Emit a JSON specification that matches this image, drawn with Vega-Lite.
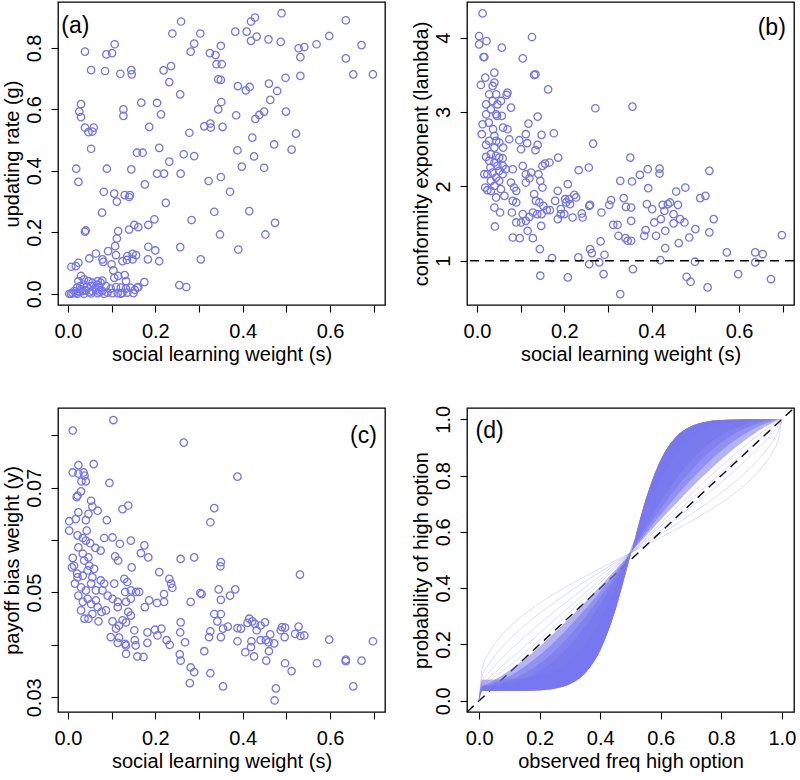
{
"$schema": "https://vega.github.io/schema/vega-lite/v6.json",
"background": "white",
"padding": {"left": 1, "top": 1, "right": 0, "bottom": 0},
"columns": 2,
"spacing": {"row": 103, "column": 82},
"bounds": "flush",
"config": {
 "font": "Liberation Sans",
 "view": {"stroke": "black", "strokeWidth": 1.3},
 "axis": {"domain": false, "grid": false, "ticks": true, "tickColor": "black", "tickSize": 7, "tickWidth": 1.1,
  "labelFont": "Liberation Sans", "labelFontSize": 20, "labelColor": "black", "labelOverlap": false, "labelFlush": false,
  "titleFont": "Liberation Sans", "titleFontSize": 20, "titleFontWeight": "normal", "titleColor": "black"},
 "axisX": {"labelPadding": 9, "titlePadding": 3},
 "axisY": {"labelAngle": -90, "labelAlign": "center", "labelBaseline": "alphabetic", "labelPadding": 11, "titlePadding": 2}
},
"datasets": {
"a": [{"s":0.259,"g":0.886},{"s":0.239,"g":0.847},{"s":0.303,"g":0.847},{"s":0.383,"g":0.853},{"s":0.409,"g":0.853},{"s":0.419,"g":0.886},{"s":0.428,"g":0.899},{"s":0.489,"g":0.913},{"s":0.636,"g":0.89},{"s":0.432,"g":0.837},{"s":0.419,"g":0.823},{"s":0.459,"g":0.828},{"s":0.487,"g":0.82},{"s":0.598,"g":0.839},{"s":0.569,"g":0.812},{"s":0.528,"g":0.799},{"s":0.541,"g":0.803},{"s":0.672,"g":0.809},{"s":0.636,"g":0.766},{"s":0.653,"g":0.714},{"s":0.698,"g":0.714},{"s":0.532,"g":0.77},{"s":0.532,"g":0.709},{"s":0.498,"g":0.703},{"s":0.46,"g":0.684},{"s":0.479,"g":0.66},{"s":0.463,"g":0.631},{"s":0.499,"g":0.593},{"s":0.449,"g":0.593},{"s":0.438,"g":0.582},{"s":0.429,"g":0.569},{"s":0.522,"g":0.521},{"s":0.512,"g":0.469},{"s":0.472,"g":0.486},{"s":0.422,"g":0.508},{"s":0.426,"g":0.447},{"s":0.449,"g":0.41},{"s":0.398,"g":0.414},{"s":0.388,"g":0.467},{"s":0.385,"g":0.581},{"s":0.389,"g":0.676},{"s":0.407,"g":0.662},{"s":0.416,"g":0.673},{"s":0.35,"g":0.696},{"s":0.344,"g":0.698},{"s":0.34,"g":0.747},{"s":0.352,"g":0.747},{"s":0.35,"g":0.807},{"s":0.338,"g":0.777},{"s":0.325,"g":0.783},{"s":0.289,"g":0.814},{"s":0.281,"g":0.788},{"s":0.236,"g":0.741},{"s":0.219,"g":0.727},{"s":0.232,"g":0.689},{"s":0.257,"g":0.649},{"s":0.351,"g":0.624},{"s":0.344,"g":0.6},{"s":0.354,"g":0.543},{"s":0.326,"g":0.554},{"s":0.327,"g":0.541},{"s":0.312,"g":0.545},{"s":0.278,"g":0.524},{"s":0.289,"g":0.448},{"s":0.265,"g":0.454},{"s":0.258,"g":0.391},{"s":0.232,"g":0.43},{"s":0.209,"g":0.475},{"s":0.204,"g":0.391},{"s":0.22,"g":0.391},{"s":0.322,"g":0.367},{"s":0.35,"g":0.38},{"s":0.371,"g":0.332},{"s":0.335,"g":0.267},{"s":0.415,"g":0.269},{"s":0.474,"g":0.231},{"s":0.452,"g":0.193},{"s":0.348,"g":0.193},{"s":0.39,"g":0.144},{"s":0.304,"g":0.112},{"s":0.283,"g":0.24},{"s":0.224,"g":0.296},{"s":0.198,"g":0.242},{"s":0.184,"g":0.224},{"s":0.184,"g":0.153},{"s":0.2,"g":0.141},{"s":0.209,"g":0.106},{"s":0.183,"g":0.112},{"s":0.257,"g":0.152},{"s":0.255,"g":0.028},{"s":0.271,"g":0.022},{"s":0.213,"g":0.584},{"s":0.204,"g":0.621},{"s":0.168,"g":0.622},{"s":0.186,"g":0.543},{"s":0.158,"g":0.459},{"s":0.171,"g":0.459},{"s":0.176,"g":0.356},{"s":0.145,"g":0.405},{"s":0.127,"g":0.6},{"s":0.127,"g":0.579},{"s":0.12,"g":0.716},{"s":0.145,"g":0.728},{"s":0.146,"g":0.714},{"s":0.107,"g":0.812},{"s":0.101,"g":0.783},{"s":0.088,"g":0.779},{"s":0.085,"g":0.725},{"s":0.053,"g":0.728},{"s":0.039,"g":0.788},{"s":0.03,"g":0.617},{"s":0.026,"g":0.593},{"s":0.03,"g":0.575},{"s":0.039,"g":0.541},{"s":0.047,"g":0.526},{"s":0.056,"g":0.528},{"s":0.059,"g":0.541},{"s":0.053,"g":0.472},{"s":0.019,"g":0.407},{"s":0.024,"g":0.364},{"s":0.089,"g":0.407},{"s":0.082,"g":0.332},{"s":0.106,"g":0.326},{"s":0.112,"g":0.3},{"s":0.13,"g":0.321},{"s":0.14,"g":0.315},{"s":0.142,"g":0.321},{"s":0.078,"g":0.264},{"s":0.14,"g":0.209},{"s":0.152,"g":0.224},{"s":0.161,"g":0.217},{"s":0.115,"g":0.204},{"s":0.112,"g":0.18},{"s":0.108,"g":0.155},{"s":0.092,"g":0.139},{"s":0.064,"g":0.131},{"s":0.049,"g":0.115},{"s":0.039,"g":0.202},{"s":0.041,"g":0.206},{"s":0.024,"g":0.101},{"s":0.018,"g":0.09},{"s":0.008,"g":0.088},{"s":0.11,"g":0.126},{"s":0.079,"g":0.112},{"s":0.081,"g":0.104},{"s":0.1,"g":0.096},{"s":0.125,"g":0.106},{"s":0.136,"g":0.123},{"s":0.135,"g":0.11},{"s":0.148,"g":0.112},{"s":0.156,"g":0.126},{"s":0.148,"g":0.13},{"s":0.104,"g":0.076},{"s":0.106,"g":0.052},{"s":0.115,"g":0.058},{"s":0.13,"g":0.061},{"s":0.133,"g":0.041},{"s":0.175,"g":0.038},{"s":0.161,"g":0.022},{"s":0.003,"g":0.0},{"s":0.011,"g":0.002},{"s":0.018,"g":0.003},{"s":0.026,"g":0.007},{"s":0.034,"g":0.009},{"s":0.041,"g":0.011},{"s":0.049,"g":0.005},{"s":0.056,"g":0.009},{"s":0.064,"g":0.013},{"s":0.072,"g":0.007},{"s":0.079,"g":0.009},{"s":0.091,"g":0.004},{"s":0.102,"g":0.002},{"s":0.114,"g":0.002},{"s":0.125,"g":0.003},{"s":0.136,"g":0.004},{"s":0.15,"g":0.002},{"s":0.153,"g":0.013},{"s":0.159,"g":0.02},{"s":0.024,"g":0.041},{"s":0.03,"g":0.058},{"s":0.037,"g":0.047},{"s":0.047,"g":0.041},{"s":0.056,"g":0.036},{"s":0.068,"g":0.03},{"s":0.075,"g":0.036},{"s":0.087,"g":0.025},{"s":0.021,"g":0.02},{"s":0.028,"g":0.025},{"s":0.036,"g":0.03},{"s":0.043,"g":0.022},{"s":0.053,"g":0.025},{"s":0.063,"g":0.02},{"s":0.072,"g":0.022},{"s":0.098,"g":0.017},{"s":0.11,"g":0.022},{"s":0.121,"g":0.02},{"s":0.133,"g":0.017},{"s":0.143,"g":0.02},{"s":0.014,"g":0.009},{"s":0.007,"g":0.0},{"s":0.022,"g":0.0},{"s":0.037,"g":0.0},{"s":0.053,"g":0.001},{"s":0.068,"g":0.002},{"s":0.083,"g":0.0},{"s":0.121,"g":0.0},{"s":0.068,"g":0.041},{"s":0.079,"g":0.043},{"s":0.03,"g":0.014}],
"b": [{"s":0.013,"lam":4.327},{"s":0.005,"lam":4.022},{"s":0.005,"lam":3.91},{"s":0.022,"lam":3.955},{"s":0.015,"lam":3.74},{"s":0.017,"lam":3.74},{"s":0.057,"lam":3.866},{"s":0.126,"lam":4.009},{"s":0.105,"lam":3.722},{"s":0.134,"lam":3.507},{"s":0.131,"lam":3.499},{"s":0.163,"lam":3.306},{"s":0.271,"lam":3.051},{"s":0.356,"lam":3.073},{"s":0.019,"lam":3.463},{"s":0.009,"lam":3.364},{"s":0.04,"lam":3.53},{"s":0.04,"lam":3.396},{"s":0.036,"lam":3.351},{"s":0.028,"lam":3.239},{"s":0.021,"lam":3.104},{"s":0.036,"lam":3.149},{"s":0.047,"lam":3.104},{"s":0.055,"lam":3.149},{"s":0.07,"lam":3.261},{"s":0.068,"lam":3.23},{"s":0.078,"lam":3.06},{"s":0.044,"lam":2.97},{"s":0.021,"lam":2.97},{"s":0.013,"lam":2.836},{"s":0.027,"lam":2.858},{"s":0.011,"lam":2.702},{"s":0.037,"lam":2.769},{"s":0.046,"lam":2.948},{"s":0.057,"lam":2.948},{"s":0.06,"lam":2.791},{"s":0.07,"lam":2.769},{"s":0.04,"lam":2.679},{"s":0.044,"lam":2.612},{"s":0.021,"lam":2.558},{"s":0.04,"lam":2.522},{"s":0.06,"lam":2.522},{"s":0.074,"lam":2.634},{"s":0.097,"lam":2.621},{"s":0.112,"lam":2.702},{"s":0.118,"lam":2.845},{"s":0.139,"lam":2.939},{"s":0.148,"lam":2.693},{"s":0.115,"lam":2.581},{"s":0.134,"lam":2.487},{"s":0.139,"lam":2.558},{"s":0.176,"lam":2.715},{"s":0.186,"lam":2.388},{"s":0.101,"lam":2.5},{"s":0.021,"lam":2.397},{"s":0.028,"lam":2.343},{"s":0.044,"lam":2.41},{"s":0.059,"lam":2.379},{"s":0.047,"lam":2.276},{"s":0.031,"lam":2.254},{"s":0.036,"lam":2.186},{"s":0.051,"lam":2.209},{"s":0.066,"lam":2.231},{"s":0.082,"lam":2.231},{"s":0.024,"lam":2.164},{"s":0.017,"lam":2.164},{"s":0.019,"lam":1.985},{"s":0.024,"lam":1.949},{"s":0.04,"lam":2.007},{"s":0.051,"lam":2.075},{"s":0.055,"lam":1.963},{"s":0.063,"lam":1.873},{"s":0.044,"lam":1.851},{"s":0.032,"lam":1.94},{"s":0.078,"lam":2.052},{"s":0.085,"lam":1.985},{"s":0.09,"lam":1.94},{"s":0.082,"lam":1.806},{"s":0.09,"lam":1.784},{"s":0.105,"lam":2.276},{"s":0.112,"lam":2.164},{"s":0.112,"lam":2.052},{"s":0.12,"lam":2.11},{"s":0.124,"lam":2.187},{"s":0.141,"lam":2.164},{"s":0.145,"lam":2.075},{"s":0.15,"lam":2.276},{"s":0.15,"lam":1.985},{"s":0.156,"lam":2.307},{"s":0.166,"lam":2.321},{"s":0.131,"lam":1.896},{"s":0.135,"lam":1.806},{"s":0.143,"lam":1.784},{"s":0.152,"lam":1.739},{"s":0.16,"lam":1.681},{"s":0.167,"lam":1.681},{"s":0.179,"lam":1.806},{"s":0.185,"lam":1.94},{"s":0.185,"lam":1.56},{"s":0.192,"lam":1.627},{"s":0.204,"lam":1.784},{"s":0.208,"lam":2.03},{"s":0.211,"lam":1.828},{"s":0.219,"lam":1.582},{"s":0.223,"lam":1.887},{"s":0.227,"lam":1.851},{"s":0.233,"lam":2.218},{"s":0.242,"lam":1.582},{"s":0.256,"lam":2.254},{"s":0.259,"lam":1.752},{"s":0.266,"lam":2.576},{"s":0.285,"lam":1.649},{"s":0.303,"lam":1.752},{"s":0.307,"lam":1.815},{"s":0.312,"lam":1.484},{"s":0.322,"lam":1.484},{"s":0.328,"lam":2.075},{"s":0.336,"lam":1.842},{"s":0.341,"lam":1.725},{"s":0.353,"lam":1.716},{"s":0.353,"lam":1.537},{"s":0.324,"lam":1.336},{"s":0.34,"lam":1.304},{"s":0.345,"lam":1.269},{"s":0.353,"lam":1.269},{"s":0.351,"lam":2.388},{"s":0.355,"lam":2.066},{"s":0.373,"lam":2.155},{"s":0.391,"lam":2.231},{"s":0.392,"lam":1.976},{"s":0.418,"lam":2.24},{"s":0.418,"lam":2.173},{"s":0.389,"lam":1.761},{"s":0.401,"lam":1.694},{"s":0.386,"lam":1.412},{"s":0.383,"lam":1.336},{"s":0.406,"lam":1.515},{"s":0.41,"lam":1.336},{"s":0.421,"lam":1.56},{"s":0.425,"lam":1.752},{"s":0.429,"lam":1.672},{"s":0.437,"lam":1.761},{"s":0.442,"lam":1.784},{"s":0.431,"lam":1.403},{"s":0.431,"lam":1.17},{"s":0.456,"lam":1.931},{"s":0.46,"lam":1.752},{"s":0.45,"lam":1.627},{"s":0.465,"lam":1.56},{"s":0.475,"lam":1.515},{"s":0.477,"lam":1.985},{"s":0.45,"lam":1.502},{"s":0.462,"lam":1.237},{"s":0.486,"lam":1.313},{"s":0.5,"lam":1.425},{"s":0.511,"lam":1.842},{"s":0.523,"lam":1.873},{"s":0.532,"lam":2.209},{"s":0.542,"lam":1.56},{"s":0.532,"lam":1.381},{"s":0.572,"lam":1.112},{"s":0.637,"lam":1.112},{"s":0.654,"lam":1.09},{"s":0.698,"lam":1.345},{"s":0.637,"lam":0.978},{"s":0.499,"lam":0.987},{"s":0.48,"lam":0.785},{"s":0.489,"lam":0.718},{"s":0.528,"lam":0.642},{"s":0.598,"lam":0.821},{"s":0.673,"lam":0.754},{"s":0.42,"lam":1.009},{"s":0.357,"lam":0.888},{"s":0.328,"lam":0.552},{"s":0.29,"lam":0.821},{"s":0.292,"lam":1.081},{"s":0.283,"lam":1.26},{"s":0.28,"lam":0.978},{"s":0.257,"lam":0.955},{"s":0.259,"lam":1.157},{"s":0.263,"lam":1.103},{"s":0.232,"lam":1.045},{"s":0.208,"lam":0.776},{"s":0.172,"lam":1.036},{"s":0.145,"lam":0.799},{"s":0.144,"lam":1.157},{"s":0.147,"lam":1.47},{"s":0.116,"lam":1.403},{"s":0.128,"lam":1.304},{"s":0.082,"lam":1.313},{"s":0.098,"lam":1.304},{"s":0.09,"lam":1.515},{"s":0.101,"lam":1.515},{"s":0.112,"lam":1.537},{"s":0.105,"lam":1.627},{"s":0.12,"lam":1.591},{"s":0.08,"lam":1.649},{"s":0.053,"lam":1.649},{"s":0.04,"lam":1.716},{"s":0.041,"lam":1.461},{"s":0.128,"lam":1.649},{"s":0.138,"lam":1.627},{"s":0.148,"lam":1.627},{"s":0.257,"lam":1.739},{"s":0.24,"lam":1.636},{"s":0.2,"lam":1.627},{"s":0.213,"lam":1.761},{"s":0.202,"lam":1.828},{"s":0.192,"lam":1.694},{"s":0.032,"lam":2.433},{"s":0.04,"lam":2.321},{"s":0.051,"lam":2.388},{"s":0.059,"lam":2.276},{"s":0.044,"lam":2.119},{"s":0.032,"lam":2.075},{"s":0.059,"lam":2.164},{"s":0.028,"lam":2.612},{"s":0.051,"lam":2.59},{"s":0.032,"lam":3.037},{"s":0.044,"lam":3.239}],
"c": [{"s":0.011,"y":0.0809},{"s":0.104,"y":0.0829},{"s":0.265,"y":0.0786},{"s":0.388,"y":0.0721},{"s":0.024,"y":0.0743},{"s":0.059,"y":0.0745},{"s":0.011,"y":0.0729},{"s":0.024,"y":0.0727},{"s":0.036,"y":0.0729},{"s":0.038,"y":0.0723},{"s":0.031,"y":0.0712},{"s":0.041,"y":0.0712},{"s":0.095,"y":0.0709},{"s":0.03,"y":0.0693},{"s":0.02,"y":0.0682},{"s":0.022,"y":0.0685},{"s":0.053,"y":0.0675},{"s":0.056,"y":0.0664},{"s":0.068,"y":0.0656},{"s":0.125,"y":0.0659},{"s":0.138,"y":0.0666},{"s":0.335,"y":0.0661},{"s":0.326,"y":0.0634},{"s":0.024,"y":0.0653},{"s":0.003,"y":0.0636},{"s":0.018,"y":0.064},{"s":0.041,"y":0.0638},{"s":0.047,"y":0.065},{"s":0.089,"y":0.0638},{"s":0.003,"y":0.0618},{"s":0.043,"y":0.0618},{"s":0.022,"y":0.0609},{"s":0.034,"y":0.0604},{"s":0.041,"y":0.0599},{"s":0.051,"y":0.0594},{"s":0.083,"y":0.0604},{"s":0.102,"y":0.0605},{"s":0.144,"y":0.0599},{"s":0.119,"y":0.0593},{"s":0.175,"y":0.059},{"s":0.167,"y":0.0575},{"s":0.184,"y":0.0567},{"s":0.108,"y":0.0569},{"s":0.115,"y":0.0561},{"s":0.075,"y":0.058},{"s":0.063,"y":0.0585},{"s":0.024,"y":0.0586},{"s":0.011,"y":0.0566},{"s":0.034,"y":0.0574},{"s":0.047,"y":0.0567},{"s":0.258,"y":0.0564},{"s":0.289,"y":0.0567},{"s":0.35,"y":0.0558},{"s":0.349,"y":0.055},{"s":0.146,"y":0.0548},{"s":0.209,"y":0.0539},{"s":0.232,"y":0.0526},{"s":0.239,"y":0.0509},{"s":0.236,"y":0.0517},{"s":0.531,"y":0.0534},{"s":0.009,"y":0.0548},{"s":0.021,"y":0.0536},{"s":0.034,"y":0.0532},{"s":0.045,"y":0.0542},{"s":0.056,"y":0.0529},{"s":0.016,"y":0.0517},{"s":0.03,"y":0.051},{"s":0.041,"y":0.0504},{"s":0.024,"y":0.0494},{"s":0.045,"y":0.0488},{"s":0.034,"y":0.0482},{"s":0.053,"y":0.0478},{"s":0.064,"y":0.0485},{"s":0.075,"y":0.0523},{"s":0.083,"y":0.0517},{"s":0.106,"y":0.0517},{"s":0.079,"y":0.0504},{"s":0.091,"y":0.0494},{"s":0.102,"y":0.0488},{"s":0.114,"y":0.0482},{"s":0.129,"y":0.0526},{"s":0.136,"y":0.052},{"s":0.131,"y":0.0501},{"s":0.144,"y":0.0504},{"s":0.156,"y":0.0501},{"s":0.163,"y":0.0501},{"s":0.144,"y":0.0488},{"s":0.133,"y":0.0482},{"s":0.186,"y":0.0485},{"s":0.204,"y":0.048},{"s":0.22,"y":0.0497},{"s":0.22,"y":0.0482},{"s":0.176,"y":0.0472},{"s":0.114,"y":0.0472},{"s":0.138,"y":0.0463},{"s":0.144,"y":0.0456},{"s":0.281,"y":0.0482},{"s":0.303,"y":0.0499},{"s":0.306,"y":0.0497},{"s":0.345,"y":0.0506},{"s":0.35,"y":0.0486},{"s":0.371,"y":0.0494},{"s":0.383,"y":0.0506},{"s":0.335,"y":0.0459},{"s":0.35,"y":0.0459},{"s":0.342,"y":0.0445},{"s":0.258,"y":0.0443},{"s":0.03,"y":0.0466},{"s":0.038,"y":0.045},{"s":0.047,"y":0.045},{"s":0.07,"y":0.0445},{"s":0.056,"y":0.0459},{"s":0.077,"y":0.0463},{"s":0.087,"y":0.0466},{"s":0.102,"y":0.0445},{"s":0.11,"y":0.0431},{"s":0.117,"y":0.0437},{"s":0.125,"y":0.0447},{"s":0.133,"y":0.0443},{"s":0.152,"y":0.0428},{"s":0.098,"y":0.0415},{"s":0.117,"y":0.0414},{"s":0.114,"y":0.0404},{"s":0.131,"y":0.0402},{"s":0.133,"y":0.0383},{"s":0.133,"y":0.0399},{"s":0.153,"y":0.0409},{"s":0.155,"y":0.0399},{"s":0.159,"y":0.0378},{"s":0.173,"y":0.0377},{"s":0.182,"y":0.0424},{"s":0.182,"y":0.0404},{"s":0.199,"y":0.0429},{"s":0.205,"y":0.0418},{"s":0.214,"y":0.0431},{"s":0.226,"y":0.0409},{"s":0.233,"y":0.04},{"s":0.257,"y":0.0424},{"s":0.256,"y":0.0382},{"s":0.258,"y":0.037},{"s":0.281,"y":0.0357},{"s":0.289,"y":0.0348},{"s":0.279,"y":0.0327},{"s":0.268,"y":0.0405},{"s":0.312,"y":0.0388},{"s":0.323,"y":0.0415},{"s":0.326,"y":0.0426},{"s":0.326,"y":0.0346},{"s":0.35,"y":0.0415},{"s":0.355,"y":0.0431},{"s":0.355,"y":0.0321},{"s":0.366,"y":0.0435},{"s":0.388,"y":0.0432},{"s":0.396,"y":0.0431},{"s":0.388,"y":0.0407},{"s":0.406,"y":0.0386},{"s":0.411,"y":0.0442},{"s":0.415,"y":0.045},{"s":0.422,"y":0.0445},{"s":0.428,"y":0.044},{"s":0.432,"y":0.0428},{"s":0.419,"y":0.0396},{"s":0.42,"y":0.0407},{"s":0.426,"y":0.0378},{"s":0.441,"y":0.0437},{"s":0.451,"y":0.0443},{"s":0.441,"y":0.0409},{"s":0.453,"y":0.0409},{"s":0.463,"y":0.042},{"s":0.459,"y":0.0405},{"s":0.46,"y":0.0388},{"s":0.454,"y":0.037},{"s":0.472,"y":0.0403},{"s":0.487,"y":0.0428},{"s":0.49,"y":0.0434},{"s":0.496,"y":0.0415},{"s":0.497,"y":0.0365},{"s":0.512,"y":0.035},{"s":0.476,"y":0.0317},{"s":0.473,"y":0.0294},{"s":0.528,"y":0.0435},{"s":0.52,"y":0.0421},{"s":0.532,"y":0.0417},{"s":0.541,"y":0.0418},{"s":0.57,"y":0.0365},{"s":0.598,"y":0.041},{"s":0.636,"y":0.0372},{"s":0.636,"y":0.0369},{"s":0.672,"y":0.037},{"s":0.653,"y":0.0321},{"s":0.698,"y":0.0407},{"s":0.497,"y":0.0433},{"s":0.037,"y":0.0561},{"s":0.049,"y":0.0551},{"s":0.06,"y":0.0545},{"s":0.053,"y":0.0517},{"s":0.064,"y":0.0504},{"s":0.068,"y":0.0472},{"s":0.022,"y":0.0529},{"s":0.014,"y":0.0551}],
"curves": [
{"p":0,"c1":0,"d":0,"b1":0,"b2":0,"b3":0,"b4":0,"l057":0,"l070":0,"l085":0,"l100":0,"l112":0},
{"p":0.01,"c1":0.035,"d":0.075,"b1":0.0501,"b2":0.0504,"b3":0.0512,"b4":0.053,"l057":0.1145,"l070":0.0867,"l085":0.0687,"l100":0.0595,"l112":0.0555},
{"p":0.03,"c1":0.035,"d":0.075,"b1":0.0509,"b2":0.0526,"b3":0.0561,"b4":0.0622,"l057":0.1651,"l070":0.1266,"l085":0.097,"l100":0.0785,"l112":0.069},
{"p":0.05,"c1":0.035,"d":0.0751,"b1":0.0526,"b2":0.0563,"b3":0.0631,"b4":0.0734,"l057":0.1995,"l070":0.1573,"l085":0.1219,"l100":0.0975,"l112":0.0839},
{"p":0.1,"c1":0.0351,"d":0.0763,"b1":0.0616,"b2":0.0721,"b3":0.0877,"b4":0.1073,"l057":0.2612,"l070":0.218,"l085":0.1771,"l100":0.145,"l112":0.1247},
{"p":0.15,"c1":0.0356,"d":0.0801,"b1":0.0787,"b2":0.0973,"b3":0.1211,"b4":0.1476,"l057":0.3076,"l070":0.2675,"l085":0.227,"l100":0.1925,"l112":0.169},
{"p":0.2,"c1":0.0375,"d":0.0892,"b1":0.1059,"b2":0.1322,"b3":0.1623,"b4":0.1927,"l057":0.3465,"l070":0.3111,"l085":0.2735,"l100":0.24,"l112":0.216},
{"p":0.25,"c1":0.0435,"d":0.108,"b1":0.145,"b2":0.1771,"b3":0.2106,"b4":0.242,"l057":0.381,"l070":0.3509,"l085":0.3181,"l100":0.2875,"l112":0.2648},
{"p":0.3,"c1":0.0596,"d":0.1425,"b1":0.1974,"b2":0.2319,"b3":0.2651,"b4":0.2946,"l057":0.4124,"l070":0.3881,"l085":0.3609,"l100":0.335,"l112":0.3151},
{"p":0.35,"c1":0.098,"d":0.1999,"b1":0.2636,"b2":0.2959,"b3":0.325,"b4":0.3499,"l057":0.4421,"l070":0.4237,"l085":0.4028,"l100":0.3825,"l112":0.3666},
{"p":0.4,"c1":0.1786,"d":0.2865,"b1":0.3423,"b2":0.3675,"b3":0.3892,"b4":0.4071,"l057":0.4704,"l070":0.458,"l085":0.444,"l100":0.43,"l112":0.4189},
{"p":0.45,"c1":0.3213,"d":0.4024,"b1":0.431,"b2":0.4448,"b3":0.4563,"b4":0.4657,"l057":0.4978,"l070":0.4917,"l085":0.4846,"l100":0.4775,"l112":0.4718},
{"p":0.5,"c1":0.5175,"d":0.5375,"b1":0.525,"b2":0.525,"b3":0.525,"b4":0.525,"l057":0.525,"l070":0.525,"l085":0.525,"l100":0.525,"l112":0.525},
{"p":0.55,"c1":0.7137,"d":0.6726,"b1":0.619,"b2":0.6052,"b3":0.5937,"b4":0.5843,"l057":0.5522,"l070":0.5583,"l085":0.5654,"l100":0.5725,"l112":0.5782},
{"p":0.6,"c1":0.8564,"d":0.7885,"b1":0.7077,"b2":0.6825,"b3":0.6608,"b4":0.6429,"l057":0.5796,"l070":0.592,"l085":0.606,"l100":0.62,"l112":0.6311},
{"p":0.65,"c1":0.937,"d":0.8751,"b1":0.7864,"b2":0.7541,"b3":0.725,"b4":0.7001,"l057":0.6079,"l070":0.6263,"l085":0.6472,"l100":0.6675,"l112":0.6834},
{"p":0.7,"c1":0.9754,"d":0.9325,"b1":0.8526,"b2":0.8181,"b3":0.7849,"b4":0.7554,"l057":0.6376,"l070":0.6619,"l085":0.6891,"l100":0.715,"l112":0.7349},
{"p":0.75,"c1":0.9915,"d":0.967,"b1":0.905,"b2":0.8729,"b3":0.8394,"b4":0.808,"l057":0.669,"l070":0.6991,"l085":0.7319,"l100":0.7625,"l112":0.7852},
{"p":0.8,"c1":0.9975,"d":0.9858,"b1":0.9441,"b2":0.9178,"b3":0.8877,"b4":0.8573,"l057":0.7035,"l070":0.7389,"l085":0.7765,"l100":0.81,"l112":0.834},
{"p":0.85,"c1":0.9994,"d":0.9949,"b1":0.9713,"b2":0.9527,"b3":0.9289,"b4":0.9024,"l057":0.7424,"l070":0.7825,"l085":0.823,"l100":0.8575,"l112":0.881},
{"p":0.9,"c1":0.9999,"d":0.9987,"b1":0.9884,"b2":0.9779,"b3":0.9623,"b4":0.9427,"l057":0.7888,"l070":0.832,"l085":0.8729,"l100":0.905,"l112":0.9253},
{"p":0.95,"c1":1,"d":0.9999,"b1":0.9974,"b2":0.9937,"b3":0.9869,"b4":0.9766,"l057":0.8505,"l070":0.8927,"l085":0.9281,"l100":0.9525,"l112":0.9661},
{"p":0.97,"c1":1,"d":1,"b1":0.9991,"b2":0.9974,"b3":0.9939,"b4":0.9878,"l057":0.8849,"l070":0.9234,"l085":0.953,"l100":0.9715,"l112":0.981},
{"p":0.99,"c1":1,"d":1,"b1":0.9999,"b2":0.9996,"b3":0.9988,"b4":0.997,"l057":0.9355,"l070":0.9633,"l085":0.9813,"l100":0.9905,"l112":0.9945},
{"p":1,"c1":1,"d":1,"b1":1,"b2":1,"b3":1,"b4":1,"l057":1,"l070":1,"l085":1,"l100":1,"l112":1}
]
},
"concat": [
{
 "width": 327, "height": 303,
 "layer": [
  {"data": {"name": "a"},
   "mark": {"type": "point", "filled": false, "color": "#7474EE", "size": 55, "strokeWidth": 1.3, "opacity": 1},
   "encoding": {
    "x": {"field": "s", "type": "quantitative", "scale": {"domain": [-0.0227, 0.7257], "nice": false, "zero": false},
     "axis": {"title": "social learning weight (s)", "values": [0, 0.1, 0.2, 0.3, 0.4, 0.5, 0.6, 0.7], "labelExpr": "round(datum.value*10)%2==0 ? format(datum.value,'.1f') : ''"}},
    "y": {"field": "g", "type": "quantitative", "scale": {"domain": [-0.0365, 0.9495], "nice": false, "zero": false},
     "axis": {"title": "updating rate (g)", "values": [0, 0.2, 0.4, 0.6, 0.8], "format": ".1f", "labelAngle": -90, "labelAlign": "center", "labelBaseline": "alphabetic", "labelPadding": 11}}
   }},
  {"data": {"values": [{}]},
   "mark": {"type": "text", "fontSize": 23, "align": "left", "baseline": "middle", "font": "Liberation Sans", "color": "black"},
   "encoding": {"x": {"datum": -0.015, "type": "quantitative"}, "y": {"datum": 0.872, "type": "quantitative"}, "text": {"value": "(a)"}}}
 ]
},
{
 "width": 327, "height": 303,
 "layer": [
  {"data": {"name": "b"},
   "mark": {"type": "point", "filled": false, "color": "#7474EE", "size": 55, "strokeWidth": 1.3, "opacity": 1},
   "encoding": {
    "x": {"field": "s", "type": "quantitative", "scale": {"domain": [-0.0227, 0.7257], "nice": false, "zero": false},
     "axis": {"title": "social learning weight (s)", "values": [0, 0.1, 0.2, 0.3, 0.4, 0.5, 0.6, 0.7], "labelExpr": "round(datum.value*10)%2==0 ? format(datum.value,'.1f') : ''"}},
    "y": {"field": "lam", "type": "quantitative", "scale": {"domain": [0.405, 4.48], "nice": false, "zero": false},
     "axis": {"title": "conformity exponent (lambda)", "values": [1, 2, 3, 4], "format": "d", "labelAngle": -90, "labelAlign": "center", "labelBaseline": "alphabetic", "labelPadding": 11}}
   }},
  {"data": {"values": [{}]},
   "mark": {"type": "rule", "color": "black", "strokeDash": [9, 6], "strokeWidth": 1.4},
   "encoding": {"y": {"datum": 1, "type": "quantitative"}}},
  {"data": {"values": [{}]},
   "mark": {"type": "text", "fontSize": 23, "align": "right", "baseline": "middle", "font": "Liberation Sans", "color": "black"},
   "encoding": {"x": {"datum": 0.707, "type": "quantitative"}, "y": {"datum": 4.134, "type": "quantitative"}, "text": {"value": "(b)"}}}
 ]
},
{
 "width": 327, "height": 304,
 "layer": [
  {"data": {"name": "c"},
   "mark": {"type": "point", "filled": false, "color": "#7474EE", "size": 55, "strokeWidth": 1.3, "opacity": 1},
   "encoding": {
    "x": {"field": "s", "type": "quantitative", "scale": {"domain": [-0.0227, 0.7257], "nice": false, "zero": false},
     "axis": {"title": "social learning weight (s)", "values": [0, 0.1, 0.2, 0.3, 0.4, 0.5, 0.6, 0.7], "labelExpr": "round(datum.value*10)%2==0 ? format(datum.value,'.1f') : ''"}},
    "y": {"field": "y", "type": "quantitative", "scale": {"domain": [0.0272, 0.0852], "nice": false, "zero": false},
     "axis": {"title": "payoff bias weight (y)", "values": [0.03, 0.04, 0.05, 0.06, 0.07, 0.08], "labelExpr": "round(datum.value*100)%2==1 ? format(datum.value,'.2f') : ''", "labelAngle": -90, "labelAlign": "center", "labelBaseline": "alphabetic", "labelPadding": 11}}
   }},
  {"data": {"values": [{}]},
   "mark": {"type": "text", "fontSize": 23, "align": "right", "baseline": "middle", "font": "Liberation Sans", "color": "black"},
   "encoding": {"x": {"datum": 0.707, "type": "quantitative"}, "y": {"datum": 0.0798, "type": "quantitative"}, "text": {"value": "(c)"}}}
 ]
},
{
 "width": 327, "height": 304,
 "layer": [
  {"data": {"values": [{}]},
   "mark": {"type": "rule", "color": "black", "strokeDash": [9, 6], "strokeWidth": 1.4},
   "encoding": {
    "x": {"datum": -0.04, "type": "quantitative", "scale": {"domain": [-0.04, 1.04], "nice": false, "zero": false}, "axis": {"title": "observed freq high option", "values": [0, 0.2, 0.4, 0.6, 0.8, 1], "format": ".1f"}},
    "y": {"datum": -0.04, "type": "quantitative", "scale": {"domain": [-0.04, 1.04], "nice": false, "zero": false}, "axis": {"title": "probability of high option", "values": [0, 0.2, 0.4, 0.6, 0.8, 1], "format": ".1f", "labelAngle": -90, "labelAlign": "center", "labelBaseline": "alphabetic", "labelPadding": 11}},
    "x2": {"datum": 1.04}, "y2": {"datum": 1.04}}},
  {"data": {"name": "curves"},
   "transform": [{"fold": ["d", "b1", "b2", "b3", "b4"], "as": ["curve", "prob"]}],
   "mark": {"type": "area", "color": "#7474EE", "opacity": 0.55, "interpolate": "monotone"},
   "encoding": {
    "x": {"field": "p", "type": "quantitative", "title": "observed freq high option"},
    "y": {"field": "c1", "type": "quantitative", "title": "probability of high option"},
    "y2": {"field": "prob"},
    "detail": {"field": "curve"}}},
  {"data": {"name": "curves"},
   "transform": [{"fold": ["l057", "l070", "l085", "l100", "l112"], "as": ["curve", "prob"]}],
   "mark": {"type": "line", "color": "#7474EE", "opacity": 0.25, "strokeWidth": 1, "interpolate": "monotone"},
   "encoding": {
    "x": {"field": "p", "type": "quantitative", "title": "observed freq high option"},
    "y": {"field": "prob", "type": "quantitative", "title": "probability of high option"},
    "detail": {"field": "curve"}}},
  {"data": {"values": [{}]},
   "mark": {"type": "text", "fontSize": 23, "align": "left", "baseline": "middle", "font": "Liberation Sans", "color": "black"},
   "encoding": {"x": {"datum": -0.012, "type": "quantitative"}, "y": {"datum": 0.957, "type": "quantitative"}, "text": {"value": "(d)"}}}
 ]
}
]
}
